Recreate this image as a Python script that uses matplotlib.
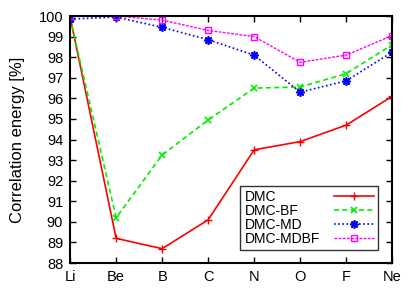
import matplotlib
matplotlib.use('Agg')
import matplotlib.pyplot as plt

# === data ===
atoms = ['Li', 'Be', 'B', 'C', 'N', 'O', 'F', 'Ne']
dmc = [99.95, 89.2, 88.7, 90.1, 93.5, 93.9, 94.7, 96.1]
dmc_bf = [99.9, 90.2, 93.25, 94.95, 96.5, 96.55, 97.2, 98.6]
dmc_md = [99.85, 99.95, 99.45, 98.85, 98.1, 96.3, 96.85, 98.25]
dmc_mdbf = [100.0, 100.0, 99.8, 99.3, 99.0, 97.75, 98.1, 99.05]

plt.rcParams['font.family'] = ['Liberation Sans', 'DejaVu Sans']

fig = plt.figure(figsize=(4.15, 2.91), dpi=100)
ax = fig.add_axes([0.169, 0.096, 0.776, 0.849])

x = list(range(len(atoms)))
ax.plot(x, dmc, color='#ff0000', lw=1.2, ls='-', marker='+', ms=6, mew=1, label='DMC')
ax.plot(x, dmc_bf, color='#00ee00', lw=1.2, ls=(0, (3, 2)), marker='x', ms=5, mew=1.2, label='DMC-BF')
ax.plot(x, dmc_md, color='#0000ff', lw=1.2, ls=(0, (1, 1.5)), marker=(8, 2, 0), ms=6, mew=1.2, label='DMC-MD')
ax.plot(x, dmc_mdbf, color='#ff00ff', lw=1.0, ls=(0, (2, 1)), marker='s', ms=5, mew=1, mfc='none', label='DMC-MDBF')

ax.set_xlim(0, 7)
ax.set_ylim(88, 100)
ax.set_xticks(x)
ax.set_xticklabels(atoms)
ax.set_yticks(range(88, 101))
ax.tick_params(direction='in', top=True, right=True, length=4, width=1, labelsize=10.5)
ax.tick_params(axis='y', pad=5)
ax.tick_params(axis='x', pad=5)
for s in ax.spines.values():
    s.set_linewidth(1.5)
ax.set_ylabel('Correlation energy [%]', fontsize=12, labelpad=10)

leg = ax.legend(loc='lower right', bbox_to_anchor=(0.957, 0.053), markerfirst=False,
                numpoints=1, fontsize=10, frameon=True, fancybox=False, edgecolor='black',
                handlelength=2.9, handletextpad=1.0, labelspacing=0.0, borderpad=0.3,
                borderaxespad=0)
leg.get_frame().set_linewidth(1.0)

# gnuplot style: labels left-aligned, samples in a right-hand column
fig.canvas.draw()
r = fig.canvas.get_renderer()
texts = leg.get_texts()
widths = [t.get_window_extent(r).width for t in texts]
maxw = max(widths)
for col in leg._legend_handle_box.get_children():
    for item, w in zip(col.get_children(), widths):
        item.sep += (maxw - w) * 72.0 / fig.dpi

fig.savefig('out.png', dpi=100)
